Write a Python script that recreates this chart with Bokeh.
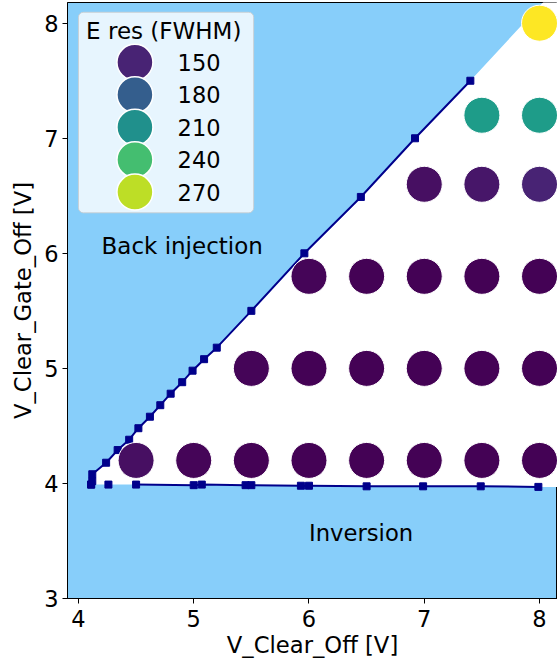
from bokeh.plotting import figure
from bokeh.models import ColumnDataSource, LinearColorMapper, Range1d, BoxAnnotation, FixedTicker
from bokeh.core.properties import value
from bokeh.palettes import Viridis256
from bokeh.transform import transform
from bokeh.embed import file_html
from bokeh.resources import INLINE

# ---- data ----
v_clear_off = [4.5, 5.0, 5.5, 6.0, 6.5, 7.0, 7.5, 8.0,
               5.5, 6.0, 6.5, 7.0, 7.5, 8.0,
               6.0, 6.5, 7.0, 7.5, 8.0,
               7.0, 7.5, 8.0,
               7.5, 8.0,
               8.0]
v_clear_gate_off = [4.2, 4.2, 4.2, 4.2, 4.2, 4.2, 4.2, 4.2,
                    5.0, 5.0, 5.0, 5.0, 5.0, 5.0,
                    5.8, 5.8, 5.8, 5.8, 5.8,
                    6.6, 6.6, 6.6,
                    7.2, 7.2,
                    8.0]
e_res = [141, 137, 136, 136, 136, 136, 136, 136,
         137, 136, 136, 136, 136, 136,
         137, 136, 136, 136, 136,
         141, 144, 150,
         218, 218,
         285]

legend_values = [150, 180, 210, 240, 270]
legend_labels = ["150", "180", "210", "240", "270"]

# back-injection boundary
upper_x = [4.11, 4.12, 4.12, 4.24, 4.34, 4.44, 4.52, 4.62, 4.71, 4.80,
           4.90, 4.99, 5.09, 5.20, 5.50, 5.96, 6.45, 6.92, 7.40]
upper_y = [3.99, 4.02, 4.08, 4.18, 4.29, 4.38, 4.48, 4.58, 4.68, 4.78,
           4.88, 4.98, 5.08, 5.18, 5.50, 6.00, 6.49, 7.00, 7.50]
# inversion boundary
lower_x = [4.11, 4.26, 4.50, 5.00, 5.07, 5.45, 5.50, 5.93, 6.00, 6.50, 6.99, 7.49, 7.99]
lower_y = [3.99, 3.99, 3.99, 3.985, 3.99, 3.985, 3.985, 3.98, 3.98, 3.975, 3.975, 3.975, 3.97]
# allowed region continues past the plot edge
region_edge_x = [8.3, 8.3, 8.14]
region_edge_y = [3.97, 8.3, 8.3]

x_ticks = [4, 5, 6, 7, 8]
y_ticks = [3, 4, 5, 6, 7, 8]

FONT = "DejaVu Sans"
SKY = "#87cefa"
NAVY = "#00008b"

mapper = LinearColorMapper(palette=Viridis256, low=135, high=285)

p = figure(width=557, height=664,
           x_range=Range1d(3.905, 8.156), y_range=Range1d(3.0, 8.18),
           output_backend="svg", toolbar_location=None,
           min_border_left=67, min_border_right=0, min_border_top=2, min_border_bottom=66)
p.background_fill_color = SKY
p.border_fill_color = "white"
p.outline_line_color = "black"
p.grid.visible = False

# allowed (white) region
region_x = lower_x + region_edge_x + upper_x[::-1]
region_y = lower_y + region_edge_y + upper_y[::-1]
p.patch(region_x, region_y, fill_color="white", line_color=None)

# boundaries
p.line(upper_x, upper_y, line_color=NAVY, line_width=2)
p.scatter(upper_x, upper_y, marker="square", size=7, fill_color=NAVY, line_color=NAVY)
p.line(lower_x[2:], lower_y[2:], line_color=NAVY, line_width=2)
p.scatter(lower_x, lower_y, marker="square", size=7, fill_color=NAVY, line_color=NAVY)

# measurements
src = ColumnDataSource(dict(x=v_clear_off, y=v_clear_gate_off, e=e_res))
p.scatter("x", "y", source=src, size=36, fill_color=transform("e", mapper),
          line_color="white", line_width=1)

# region labels
p.text([4.2], [6.06], text=["Back injection"], text_font=value(FONT),
       text_font_size="23px", text_color="black", text_baseline="alphabetic", text_align="left")
p.text([6.0], [3.565], text=["Inversion"], text_font=value(FONT),
       text_font_size="22.7px", text_color="black", text_baseline="alphabetic", text_align="left")

# legend (drawn manually so the markers can overlap like the original)
leg_left, leg_right, leg_top, leg_bottom = 4.0, 5.52, 8.095, 6.352
p.add_layout(BoxAnnotation(left=leg_left, right=leg_right, top=leg_top, bottom=leg_bottom,
                           fill_color="white", fill_alpha=0.8, line_color="#cccccc",
                           line_alpha=0.8, line_width=1, border_radius=5, level="annotation"))
leg_step = 0.282
leg_y = [7.66 - i * leg_step for i in range(len(legend_values))]
leg_src = ColumnDataSource(dict(x=[4.49] * len(legend_values), y=leg_y, e=legend_values,
                                lx=[4.86] * len(legend_values), lab=legend_labels))
lr = p.scatter("x", "y", source=leg_src, size=36, fill_color=transform("e", mapper),
               line_color="white", line_width=1.5)
lr.level = "overlay"
tl = p.text("lx", "y", text="lab", source=leg_src, text_font=value(FONT), text_font_size="22.5px",
            text_color="black", text_baseline="middle", text_align="left")
tl.level = "overlay"
tt = p.text([4.74], [7.93], text=["E res (FWHM)"], text_font=value(FONT), text_font_size="23px",
            text_color="black", text_baseline="middle", text_align="center")
tt.level = "overlay"

# axes
p.xaxis.axis_label = "V_Clear_Off [V]"
p.yaxis.axis_label = "V_Clear_Gate_Off [V]"
p.xaxis.ticker = FixedTicker(ticks=x_ticks)
p.yaxis.ticker = FixedTicker(ticks=y_ticks)
for ax in (p.xaxis, p.yaxis):
    ax.axis_label_text_font = FONT
    ax.axis_label_text_font_size = "22.7px"
    ax.axis_label_text_font_style = "normal"
    ax.axis_label_text_color = "black"
    ax.major_label_text_font = FONT
    ax.major_label_text_font_size = "22.5px"
    ax.major_label_text_color = "black"
    ax.axis_line_color = "black"
    ax.major_tick_line_color = "black"
    ax.major_tick_out = 5
    ax.major_tick_in = 0
    ax.minor_tick_line_color = None
p.xaxis.major_label_standoff = 6
p.xaxis.axis_label_standoff = 2
p.yaxis.major_label_standoff = 4
p.yaxis.axis_label_standoff = 5

open("out.html", "w").write(file_html(p, INLINE))
